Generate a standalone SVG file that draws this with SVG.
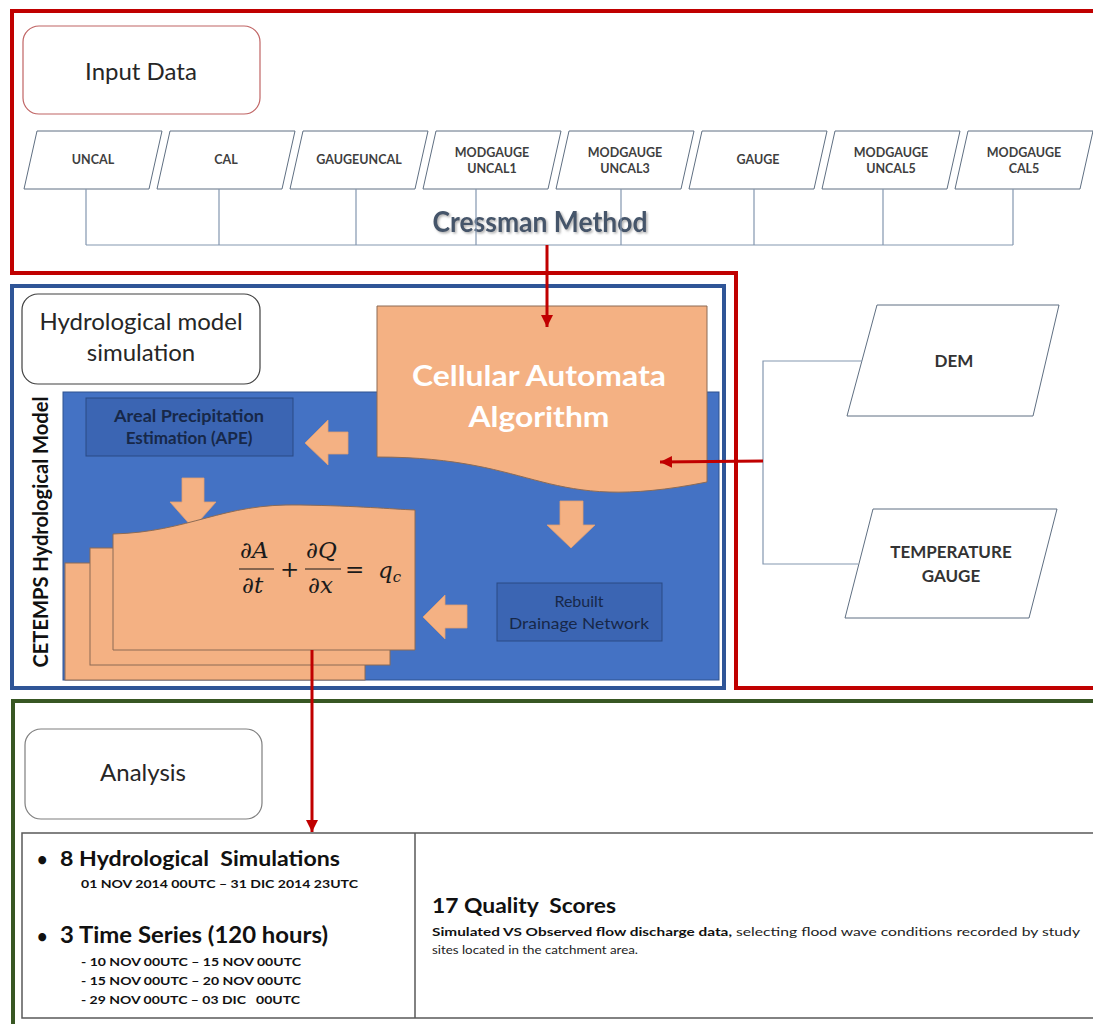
<svg xmlns="http://www.w3.org/2000/svg" width="1093" height="1024" viewBox="0 0 1093 1024">
  <defs>
    <style>
      .title { font-family: Lato, "Liberation Sans", sans-serif; font-size: 24px; fill: #262626; text-anchor: middle; }
      .para { fill: #ffffff; stroke: #5f6f82; stroke-width: 1; }
      .plbl { font-family: Lato, "Liberation Sans", sans-serif; font-size: 12.5px; font-weight: 700; fill: #3f3f3f; text-anchor: middle; }
      .bigp { font-family: Lato, "Liberation Sans", sans-serif; font-size: 17px; font-weight: 700; fill: #333333; text-anchor: middle; }
      .wire { fill: none; stroke: #8497b0; stroke-width: 1.2; }
      .red { fill: none; stroke: #c00000; stroke-width: 3; }
      .peach { fill: #f4b183; stroke: #8c6b55; stroke-width: 1; }
      .barrow { fill: #f4b183; stroke: #e3a070; stroke-width: 0.8; }
      .navy { font-family: Lato, "Liberation Sans", sans-serif; fill: #172849; text-anchor: middle; }
      .math { font-family: "DejaVu Serif", "Liberation Serif", serif; font-style: italic; font-size: 23px; fill: #1a1a1a; }
      .mop { font-family: "DejaVu Serif", "Liberation Serif", serif; font-size: 23px; fill: #1a1a1a; }
      .tb { font-family: Lato, "Liberation Sans", sans-serif; font-weight: 700; fill: #111111; white-space: pre; }
      .tr { font-family: Lato, "Liberation Sans", sans-serif; fill: #222222; white-space: pre; }
    </style>
    <marker id="redHead" markerUnits="userSpaceOnUse" markerWidth="14" markerHeight="14" refX="12" refY="6" orient="auto">
      <path d="M0,0 L12,6 L0,12 Z" fill="#c00000"/>
    </marker>
    <filter id="soft" x="-10%" y="-30%" width="130%" height="160%">
      <feDropShadow dx="1.5" dy="1.5" stdDeviation="1" flood-color="#9a9a9a" flood-opacity="0.8"/>
    </filter>
  </defs>

  <rect width="1093" height="1024" fill="#ffffff"/>

  <!-- section frames -->
  <g id="frames">
    <path d="M1100,11 H12 V273 H736 V688 H1100" fill="none" stroke="#c00000" stroke-width="4"/>
    <rect x="12" y="286" width="712" height="402" fill="none" stroke="#2f5597" stroke-width="4"/>
    <path d="M1100,701 H13 V1030" fill="none" stroke="#385723" stroke-width="4"/>
  </g>

  <!-- input data header -->
  <g id="input-data">
    <rect x="23" y="26" width="237" height="88" rx="16" fill="#ffffff" stroke="#c06464" stroke-width="1.2"/>
    <text class="title" x="141" y="80">Input Data</text>
  </g>

  <!-- precipitation inputs -->
  <g id="uncal"><polygon class="para" points="37,131 162,131 149,189 24,189"/><text class="plbl" x="93" y="164">UNCAL</text></g>
  <g id="cal"><polygon class="para" points="170,131 295,131 282,189 157,189"/><text class="plbl" x="226" y="164">CAL</text></g>
  <g id="gaugeuncal"><polygon class="para" points="303,131 428,131 415,189 290,189"/><text class="plbl" x="359" y="164">GAUGEUNCAL</text></g>
  <g id="modgauge-uncal1"><polygon class="para" points="436,131 561,131 548,189 423,189"/><text class="plbl" x="492" y="157">MODGAUGE</text><text class="plbl" x="492" y="173">UNCAL1</text></g>
  <g id="modgauge-uncal3"><polygon class="para" points="569,131 694,131 681,189 556,189"/><text class="plbl" x="625" y="157">MODGAUGE</text><text class="plbl" x="625" y="173">UNCAL3</text></g>
  <g id="gauge"><polygon class="para" points="702,131 827,131 814,189 689,189"/><text class="plbl" x="758" y="164">GAUGE</text></g>
  <g id="modgauge-uncal5"><polygon class="para" points="835,131 960,131 947,189 822,189"/><text class="plbl" x="891" y="157">MODGAUGE</text><text class="plbl" x="891" y="173">UNCAL5</text></g>
  <g id="modgauge-cal5"><polygon class="para" points="968,131 1093,131 1080,189 955,189"/><text class="plbl" x="1024" y="157">MODGAUGE</text><text class="plbl" x="1024" y="173">CAL5</text></g>

  <g id="cressman">
    <text x="540" y="232" font-family="Lato, 'Liberation Sans', sans-serif" font-size="28" font-weight="700" fill="#44546a" text-anchor="middle" textLength="215" lengthAdjust="spacingAndGlyphs" filter="url(#soft)">Cressman Method</text>
  </g>

  <!-- hydrological model section -->
  <g id="hydro-header">
    <rect x="22" y="294" width="238" height="90" rx="16" fill="#ffffff" stroke="#404040" stroke-width="1.2"/>
    <text class="title" x="141" y="330">Hydrological model</text>
    <text class="title" x="141" y="361">simulation</text>
  </g>

  <g id="model-panel">
    <rect x="63" y="392" width="656" height="288" fill="#4472c4" stroke="#2f528f" stroke-width="1"/>
    <text transform="translate(48,532) rotate(-90)" font-family="Lato, 'Liberation Sans', sans-serif" font-size="20" font-weight="700" fill="#111111" text-anchor="middle" textLength="271" lengthAdjust="spacingAndGlyphs">CETEMPS Hydrological Model</text>
  </g>

  <g id="cellular-automata">
    <path class="peach" d="M377,306 H707 V482 C542,515 542,457 377,457 Z"/>
    <text x="539" y="386" font-family="Lato, 'Liberation Sans', sans-serif" font-size="29" font-weight="700" fill="#ffffff" text-anchor="middle" textLength="254" lengthAdjust="spacingAndGlyphs">Cellular Automata</text>
    <text x="539" y="427" font-family="Lato, 'Liberation Sans', sans-serif" font-size="29" font-weight="700" fill="#ffffff" text-anchor="middle" textLength="141" lengthAdjust="spacingAndGlyphs">Algorithm</text>
  </g>

  <g id="ape">
    <rect x="86" y="398" width="207" height="58" fill="#3b65b3" stroke="#2a4a84" stroke-width="1"/>
    <text class="navy" x="189" y="422" font-size="17" font-weight="700" textLength="150" lengthAdjust="spacingAndGlyphs">Areal Precipitation</text>
    <text class="navy" x="189" y="444" font-size="17" font-weight="700">Estimation (APE)</text>
  </g>

  <g id="drainage">
    <rect x="497" y="583" width="165" height="58" fill="#3b65b3" stroke="#2a4a84" stroke-width="1"/>
    <text class="navy" x="579" y="607" font-size="16">Rebuilt</text>
    <text class="navy" x="579" y="629" font-size="16" textLength="140" lengthAdjust="spacingAndGlyphs">Drainage Network</text>
  </g>

  <!-- flow arrows inside the model -->
  <g id="flow-arrows">
    <polygon class="barrow" points="305,443 328,420 328,432 348,432 348,454 328,454 328,465"/>
    <polygon class="barrow" points="182,478 204,478 204,502 216,502 193,528 170,502 182,502"/>
    <polygon class="barrow" points="560,501 583,501 583,525 595,525 571,548 547,525 560,525"/>
    <polygon class="barrow" points="423,617 445,595 445,605 467,605 467,628 445,628 445,639"/>
  </g>

  <g id="continuity-equation">
    <rect class="peach" x="65" y="563" width="300" height="117"/>
    <rect class="peach" x="90" y="548" width="300" height="117"/>
    <path class="peach" d="M113,534 C190,532 222,503 300,505 C360,506 390,509 415,510 V650 H113 Z"/>
    <text class="math" x="240" y="558">∂A</text>
    <line x1="239" y1="569" x2="274" y2="569" stroke="#1a1a1a" stroke-width="1.2"/>
    <text class="math" x="242" y="593">∂t</text>
    <text class="mop" x="280" y="577">+</text>
    <text class="math" x="306" y="558">∂Q</text>
    <line x1="305" y1="569" x2="341" y2="569" stroke="#1a1a1a" stroke-width="1.2"/>
    <text class="math" x="308" y="593">∂x</text>
    <text class="mop" x="345" y="577">=</text>
    <text class="math" x="378" y="578">q<tspan font-size="15" dy="4">c</tspan></text>
  </g>

  <!-- static inputs -->
  <g id="dem">
    <polygon class="para" points="877,305 1059,305 1033,416 847,416"/>
    <text class="bigp" x="954" y="367">DEM</text>
  </g>
  <g id="temperature-gauge">
    <polygon class="para" points="873,509 1057,509 1029,618 845,618"/>
    <text class="bigp" x="951" y="558">TEMPERATURE</text>
    <text class="bigp" x="951" y="582">GAUGE</text>
  </g>

  <!-- analysis section -->
  <g id="analysis-header">
    <rect x="25" y="729" width="237" height="90" rx="16" fill="#ffffff" stroke="#7f7f7f" stroke-width="1.2"/>
    <text class="title" x="143" y="781">Analysis</text>
  </g>

  <g id="analysis-table">
    <rect x="22" y="833" width="1080" height="185" fill="#ffffff" stroke="#595959" stroke-width="1.5"/>
    <line x1="415" y1="833" x2="415" y2="1018" stroke="#595959" stroke-width="1.5"/>
    <text class="tb" x="37" y="866" font-size="18">•</text>
    <text class="tb" x="60" y="866" font-size="20" textLength="280" lengthAdjust="spacingAndGlyphs">8 Hydrological  Simulations</text>
    <text class="tb" x="81" y="888" font-size="12" textLength="277" lengthAdjust="spacingAndGlyphs">01 NOV 2014 00UTC – 31 DIC 2014 23UTC</text>
    <text class="tb" x="37" y="943" font-size="18">•</text>
    <text class="tb" x="60" y="943" font-size="22" textLength="268" lengthAdjust="spacingAndGlyphs">3 Time Series (120 hours)</text>
    <text class="tb" x="81" y="966" font-size="12" textLength="220" lengthAdjust="spacingAndGlyphs">- 10 NOV 00UTC – 15 NOV 00UTC</text>
    <text class="tb" x="81" y="985" font-size="12" textLength="220" lengthAdjust="spacingAndGlyphs">- 15 NOV 00UTC – 20 NOV 00UTC</text>
    <text class="tb" x="81" y="1004" font-size="12" textLength="219" lengthAdjust="spacingAndGlyphs">- 29 NOV 00UTC – 03 DIC   00UTC</text>
    <text class="tb" x="432" y="913" font-size="20" textLength="184" lengthAdjust="spacingAndGlyphs">17 Quality  Scores</text>
    <text class="tb" x="432" y="936" font-size="12" textLength="300" lengthAdjust="spacingAndGlyphs">Simulated VS Observed flow discharge data,</text>
    <text class="tr" x="736" y="936" font-size="12" textLength="344" lengthAdjust="spacingAndGlyphs">selecting flood wave conditions recorded by study</text>
    <text class="tr" x="432" y="954" font-size="12" textLength="206" lengthAdjust="spacingAndGlyphs">sites located in the catchment area.</text>
  </g>

  <!-- connectors, drawn last so arrowheads sit on top of the shapes -->
  <g id="connectors">
    <path class="wire" d="M86,189 V245 M219,189 V245 M356,189 V245 M476,189 V245 M621,189 V245 M754,189 V245 M883,189 V245 M1013,189 V245 M86,245 H1013"/>
    <path class="wire" d="M862,361 H763 V564 H858"/>
    <line class="red" x1="547" y1="245" x2="547" y2="327" marker-end="url(#redHead)"/>
    <line class="red" x1="763" y1="461" x2="660" y2="462" marker-end="url(#redHead)"/>
    <line class="red" x1="312" y1="650" x2="312" y2="832" marker-end="url(#redHead)"/>
  </g>
</svg>
